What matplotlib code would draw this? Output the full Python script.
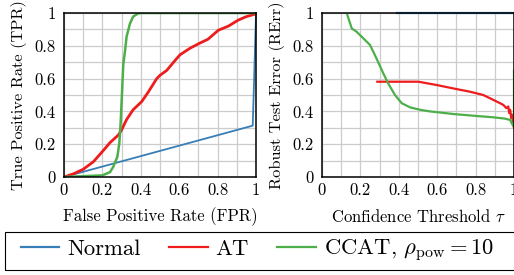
import numpy as np
import matplotlib.pyplot as plt
from matplotlib.patches import Rectangle

plt.rcParams['font.family'] = ['cmr10', 'DejaVu Serif']
plt.rcParams['mathtext.fontset'] = 'cm'
plt.rcParams['axes.formatter.use_mathtext'] = True

# ROC curves (left)
fpr_normal = [0.0, 0.983, 1.0, 1.0]
tpr_normal = [0.0, 0.313, 0.99, 1.0]

fpr_at = [0.0, 0.05, 0.1, 0.153, 0.2, 0.24, 0.283, 0.3, 0.326, 0.36, 0.405, 0.44, 0.483,
          0.5, 0.535, 0.578, 0.604, 0.656, 0.705, 0.75, 0.804, 0.856, 0.908, 0.95, 1.0]
tpr_at = [0.0, 0.02, 0.047, 0.093, 0.155, 0.21, 0.256, 0.287, 0.35, 0.41, 0.46, 0.52, 0.60,
          0.62, 0.65, 0.71, 0.745, 0.785, 0.815, 0.84, 0.895, 0.92, 0.957, 0.978, 0.995]

fpr_ccat = [0.0, 0.2, 0.24, 0.257, 0.278, 0.288, 0.295, 0.302, 0.309, 0.318, 0.326,
            0.344, 0.36, 0.387, 0.4, 1.0]
tpr_ccat = [0.0, 0.01, 0.03, 0.063, 0.124, 0.205, 0.33, 0.51, 0.69, 0.77, 0.856,
            0.937, 0.978, 0.998, 1.0, 1.0]

# Robust test error vs. confidence threshold (right)
tau_normal = [0.392, 1.0]
rerr_normal = [1.0, 1.0]

tau_at = [0.288, 0.502, 0.597, 0.684, 0.771, 0.84, 0.875, 0.91, 0.944, 0.96, 0.97,
          0.975, 0.98, 0.985, 0.99, 0.995, 1.0]
rerr_at = [0.581, 0.581, 0.561, 0.54, 0.52, 0.5, 0.48, 0.46, 0.44, 0.42, 0.43,
           0.39, 0.41, 0.36, 0.38, 0.33, 0.30]

tau_ccat = [0.132, 0.155, 0.18, 0.215, 0.25, 0.285, 0.32, 0.345, 0.38, 0.415, 0.458,
            0.51, 0.5625, 0.684, 0.806, 0.892, 0.953, 0.98, 0.993, 1.0, 1.0]
rerr_ccat = [0.988, 0.906, 0.886, 0.846, 0.805, 0.72, 0.63, 0.57, 0.50, 0.45, 0.425,
             0.41, 0.40, 0.384, 0.372, 0.364, 0.356, 0.348, 0.317, 0.307, 0.65]

ticks = [0, 0.2, 0.4, 0.6, 0.8, 1]
tick_labels = ['0', '0.2', '0.4', '0.6', '0.8', '1']

c_normal = '#377eb8'
c_at = '#ee1c1c'
c_ccat = '#4daf4a'

fig = plt.figure(figsize=(5.14, 2.75), dpi=100)
ax1 = fig.add_axes([64 / 514, 1 - 177 / 275, 192 / 514, 164 / 275])
ax2 = fig.add_axes([322 / 514, 1 - 177 / 275, 192 / 514, 164 / 275])

for ax in (ax1, ax2):
    ax.set_xlim(0, 1)
    ax.set_ylim(0, 1)
    ax.set_xticks(ticks)
    ax.set_xticklabels(tick_labels)
    ax.set_yticks(ticks)
    ax.set_yticklabels(tick_labels)
    ax.set_xticks(np.arange(0.1, 1.0, 0.2), minor=True)
    ax.set_yticks(np.arange(0.1, 1.0, 0.2), minor=True)
    ax.grid(True, which='both', color='#cccccc', lw=0.9)
    ax.set_axisbelow(True)
    ax.tick_params(which='both', length=0, labelsize=12)
    ax.tick_params(axis='x', pad=4)
    ax.tick_params(axis='y', pad=6)
    for s in ax.spines.values():
        s.set_linewidth(1.1)

ax1.plot(fpr_normal, tpr_normal, color=c_normal, lw=1.3, clip_on=False)
ax1.plot(fpr_at, tpr_at, color=c_at, lw=2.0)
ax1.plot(fpr_ccat, tpr_ccat, color=c_ccat, lw=1.8)
ax1.set_xlabel('False Positive Rate (FPR)', fontsize=12, labelpad=7)
ax1.set_ylabel('True Positive Rate (TPR)', fontsize=11.8, labelpad=5)

l1, = ax2.plot(tau_normal, rerr_normal, color=c_normal, lw=1.6, clip_on=False)
l2, = ax2.plot(tau_at, rerr_at, color=c_at, lw=1.6)
l3, = ax2.plot(tau_ccat, rerr_ccat, color=c_ccat, lw=1.6)
ax2.set_xlabel(r'Confidence Threshold $\tau$', fontsize=12, labelpad=7)
ax2.set_ylabel('Robust Test Error (RErr)', fontsize=11.8, labelpad=5)

fig.patches.append(Rectangle((5 / 514, 5 / 275), 1.0, 38 / 275, transform=fig.transFigure,
                             fill=False, edgecolor='black', lw=0.8))
fig.legend([l1, l2, l3], ['Normal', 'AT', r'CCAT, $\rho_{\mathrm{pow}} = 10$'],
           loc='center left', bbox_to_anchor=(21 / 514, 24 / 275), ncol=3, frameon=False,
           fontsize=16.3, handlelength=1.7, handletextpad=0.35, columnspacing=1.25,
           borderaxespad=0, borderpad=0)

fig.savefig('out.png', dpi=100)
